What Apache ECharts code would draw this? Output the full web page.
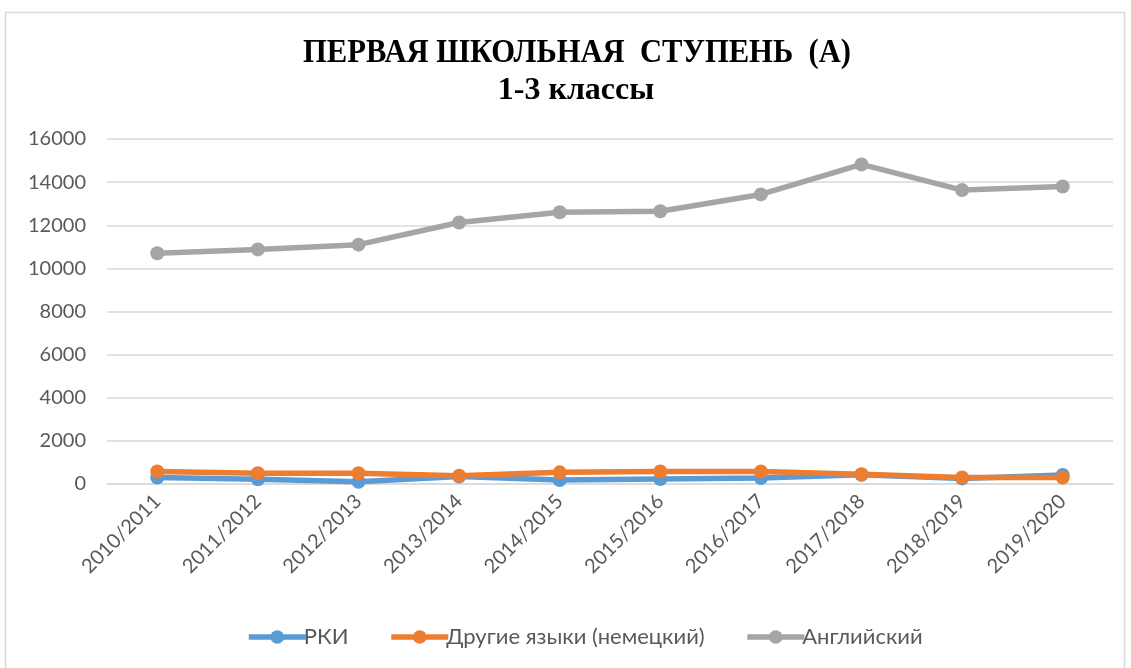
<!DOCTYPE html>
<html>
<head>
<meta charset="utf-8">
<script src="https://cdn.jsdelivr.net/npm/echarts@6/dist/echarts.min.js"></script>
<style>
html,body{margin:0;padding:0;background:#fff;}
#chart{width:1131px;height:668px;}
</style>
</head>
<body>
<div id="chart"></div>
<script>
const categories = ['2010/2011','2011/2012','2012/2013','2013/2014','2014/2015','2015/2016','2016/2017','2017/2018','2018/2019','2019/2020'];
const rki = [300, 220, 100, 350, 180, 230, 280, 430, 260, 420];
const otherLanguages = [580, 500, 500, 380, 540, 580, 580, 450, 300, 300];
const english = [10700, 10880, 11100, 12130, 12600, 12650, 13430, 14820, 13630, 13800];
const yTicks = { min: 0, max: 16000, interval: 2000 };
const titleLine1 = 'ПЕРВАЯ ШКОЛЬНАЯ  СТУПЕНЬ  (А)';
const titleLine2 = '1-3 классы';
const seriesNames = ['РКИ', 'Другие языки (немецкий)', 'Английский'];

const labelFont = 'Lato, "Open Sans", sans-serif';
const chart = echarts.init(document.getElementById('chart'), null, {renderer: 'canvas'});
function lineSeries(name, data, color) {
  return {
    name: name, type: 'line', data: data,
    symbol: 'circle', symbolSize: 14,
    lineStyle: {width: 5.5, color: color},
    itemStyle: {color: color},
    emphasis: {disabled: true},
    animation: false
  };
}
chart.setOption({
  animation: false,
  color: ['#5B9BD5', '#ED7D31', '#A5A5A5'],
  graphic: [
    {type: 'rect', shape: {x: 5.5, y: 12.5, width: 1119, height: 660}, style: {fill: 'none', stroke: '#d9d9d9', lineWidth: 1.5}, silent: true},
    {type: 'text', x: 577, y: 53, scaleX: 0.9, style: {text: titleLine1, font: 'bold 34px "Liberation Serif", "Times New Roman", serif', fill: '#000', textAlign: 'center', textVerticalAlign: 'middle'}},
    {type: 'text', x: 576, y: 91, style: {text: titleLine2, font: 'bold 32px "Liberation Serif", "Times New Roman", serif', fill: '#000', textAlign: 'center', textVerticalAlign: 'middle'}}
  ],
  grid: {left: 107, right: 18, top: 139, bottom: 184, containLabel: false},
  legend: {
    data: seriesNames,
    top: 621,
    left: 241,
    itemWidth: 57, itemHeight: 17, itemGap: 40,
    lineStyle: {width: 5.5},
    textStyle: {fontSize: 22, color: '#595959', fontFamily: labelFont, padding: [0,0,0,-7]}
  },
  xAxis: {
    type: 'category', data: categories, boundaryGap: true,
    axisLine: {show: true, lineStyle: {color: '#d9d9d9', width: 1.5}},
    axisTick: {show: false},
    axisLabel: {rotate: 45, fontSize: 20, color: '#595959', fontFamily: labelFont, margin: 14, interval: 0}
  },
  yAxis: {
    type: 'value', min: yTicks.min, max: yTicks.max, interval: yTicks.interval,
    axisLine: {show: false}, axisTick: {show: false},
    splitLine: {lineStyle: {color: '#d9d9d9', width: 1.5}},
    axisLabel: {fontSize: 20, color: '#595959', fontFamily: labelFont, margin: 21, formatter: function (v) { return String(v); }}
  },
  series: [
    lineSeries(seriesNames[0], rki, '#5B9BD5'),
    lineSeries(seriesNames[1], otherLanguages, '#ED7D31'),
    lineSeries(seriesNames[2], english, '#A5A5A5')
  ]
});
</script>
</body>
</html>
